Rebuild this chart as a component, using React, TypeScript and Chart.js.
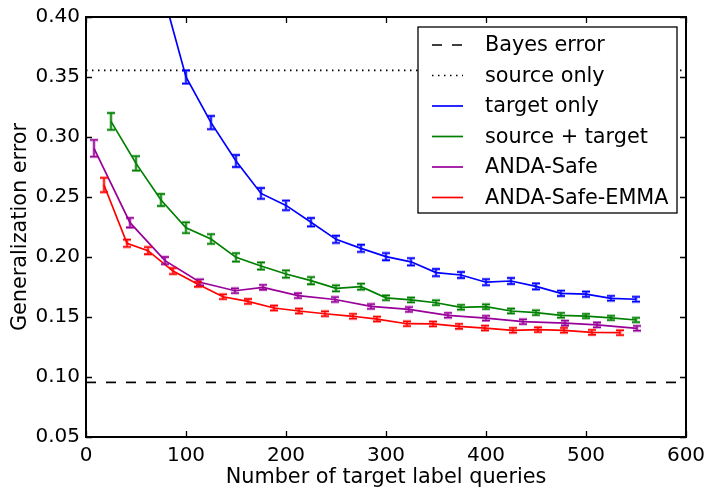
import React, { useEffect, useRef } from "react";
import { Chart, registerables } from "chart.js";
Chart.register(...registerables);

// ---- data ----
const bayesError = 0.0955;
const sourceOnly = 0.3556;
const hLineX = [0, 600];

const targetX = [75, 100, 125, 150, 175, 200, 225, 250, 275, 300, 325, 350, 375, 400, 425, 450, 475, 500, 525, 550];
const targetY = [0.426, 0.350, 0.312, 0.280, 0.253, 0.243, 0.229, 0.2147, 0.2072, 0.2003, 0.196, 0.187, 0.185, 0.179, 0.180, 0.1755, 0.1697, 0.169, 0.1656, 0.1648];
const targetErr = [0.007, 0.0055, 0.0055, 0.005, 0.0045, 0.004, 0.0035, 0.003, 0.003, 0.003, 0.003, 0.003, 0.0025, 0.0025, 0.0025, 0.0025, 0.0022, 0.0022, 0.002, 0.002];

const srcTgtX = [25, 50, 75, 100, 125, 150, 175, 200, 225, 250, 275, 300, 325, 350, 375, 400, 425, 450, 475, 500, 525, 550];
const srcTgtY = [0.313, 0.278, 0.2475, 0.2244, 0.215, 0.1997, 0.1925, 0.1858, 0.1803, 0.1739, 0.1753, 0.166, 0.1642, 0.1619, 0.1581, 0.1586, 0.155, 0.1536, 0.1514, 0.1508, 0.1492, 0.1475];
const srcTgtErr = [0.007, 0.006, 0.005, 0.0045, 0.004, 0.0035, 0.003, 0.003, 0.003, 0.0025, 0.0025, 0.002, 0.002, 0.002, 0.002, 0.002, 0.002, 0.002, 0.002, 0.0018, 0.0018, 0.0018];

const andaX = [8, 44, 79, 114, 149, 177, 212, 249, 285, 323, 362, 400, 437, 479, 511, 551];
const andaY = [0.2906, 0.2286, 0.197, 0.1789, 0.1719, 0.1747, 0.1678, 0.1646, 0.1588, 0.1563, 0.1514, 0.149, 0.1461, 0.1449, 0.1434, 0.1406];
const andaErr = [0.007, 0.004, 0.003, 0.0025, 0.002, 0.002, 0.002, 0.002, 0.002, 0.002, 0.002, 0.002, 0.002, 0.002, 0.002, 0.002];

const emmaX = [18, 41, 62, 87, 112, 137, 162, 188, 213, 239, 267, 291, 321, 347, 373, 399, 427, 452, 478, 506, 534];
const emmaY = [0.26, 0.2114, 0.2053, 0.1883, 0.1772, 0.1669, 0.163, 0.1575, 0.155, 0.1527, 0.1506, 0.1483, 0.1444, 0.1442, 0.1422, 0.1408, 0.1389, 0.1394, 0.1389, 0.1372, 0.1369];
const emmaErr = [0.006, 0.003, 0.003, 0.0025, 0.002, 0.002, 0.002, 0.002, 0.002, 0.002, 0.002, 0.002, 0.002, 0.002, 0.002, 0.002, 0.002, 0.002, 0.002, 0.002, 0.002];

const xTicks = [0, 100, 200, 300, 400, 500, 600];
const yTicks = [0.05, 0.10, 0.15, 0.20, 0.25, 0.30, 0.35, 0.40];

const FONT = "'DejaVu Sans', sans-serif";

const pts = (xs: number[], ys: number[]) => xs.map((x, i) => ({ x, y: ys[i] }));

const errorBarPlugin = {
  id: "errorBars",
  afterDatasetsDraw(chart: any) {
    const { ctx, chartArea, scales } = chart;
    ctx.save();
    ctx.beginPath();
    ctx.rect(chartArea.left, chartArea.top, chartArea.right - chartArea.left, chartArea.bottom - chartArea.top);
    ctx.clip();
    chart.data.datasets.forEach((ds: any) => {
      if (!ds.errs) return;
      ctx.strokeStyle = ds.borderColor;
      ds.data.forEach((p: any, i: number) => {
        const e = ds.errs[i];
        const px = scales.x.getPixelForValue(p.x);
        const y1 = scales.y.getPixelForValue(p.y - e);
        const y2 = scales.y.getPixelForValue(p.y + e);
        const cap = 4;
        ctx.globalAlpha = 0.45;
        ctx.lineWidth = 3;
        ctx.beginPath();
        ctx.moveTo(px, y1); ctx.lineTo(px, y2);
        ctx.moveTo(px - cap, y1); ctx.lineTo(px + cap, y1);
        ctx.moveTo(px - cap, y2); ctx.lineTo(px + cap, y2);
        ctx.stroke();
        ctx.globalAlpha = 1;
        ctx.lineWidth = 1.3;
        ctx.beginPath();
        ctx.moveTo(px, y1); ctx.lineTo(px, y2);
        ctx.moveTo(px - cap, y1); ctx.lineTo(px + cap, y1);
        ctx.moveTo(px - cap, y2); ctx.lineTo(px + cap, y2);
        ctx.stroke();
      });
    });
    ctx.restore();
  },
};

const framePlugin = {
  id: "frame",
  afterDraw(chart: any) {
    const { ctx, chartArea, scales } = chart;
    const { left, right, top, bottom } = chartArea;
    ctx.save();
    ctx.strokeStyle = "#000";
    ctx.lineWidth = 1.3;
    const tl = 6;
    ctx.beginPath();
    xTicks.forEach((v) => {
      const px = Math.round(scales.x.getPixelForValue(v)) + 0.5;
      ctx.moveTo(px, bottom); ctx.lineTo(px, bottom - tl);
      ctx.moveTo(px, top); ctx.lineTo(px, top + tl);
    });
    yTicks.forEach((v) => {
      const py = Math.round(scales.y.getPixelForValue(v)) + 0.5;
      ctx.moveTo(left, py); ctx.lineTo(left + tl, py);
      ctx.moveTo(right, py); ctx.lineTo(right - tl, py);
    });
    ctx.stroke();
    ctx.lineWidth = 2;
    ctx.strokeRect(left, top, right - left, bottom - top);

    // legend
    const lx0 = 418, ly0 = 27, lw = 259, lh = 186;
    ctx.fillStyle = "#fff";
    ctx.fillRect(lx0, ly0, lw, lh);
    ctx.lineWidth = 1.3;
    ctx.strokeStyle = "#000";
    ctx.strokeRect(lx0, ly0, lw, lh);
    ctx.font = `20.8px ${FONT}`;
    ctx.textBaseline = "middle";
    ctx.textAlign = "left";
    chart.data.datasets.forEach((ds: any, i: number) => {
      const y = 45 + i * 30.5;
      ctx.strokeStyle = ds.borderColor;
      ctx.lineWidth = ds.borderWidth;
      ctx.setLineDash(ds.borderDash || []);
      ctx.beginPath();
      ctx.moveTo(432, y); ctx.lineTo(463, y);
      ctx.stroke();
      ctx.setLineDash([]);
      ctx.fillStyle = "#000";
      ctx.fillText(ds.label, 485, y + 1);
    });
    ctx.restore();
  },
};

export default function App() {
  const ref = useRef<HTMLCanvasElement>(null);
  useEffect(() => {
    const canvas = ref.current!;
    const chart = new Chart(canvas, {
      type: "line",
      data: {
        datasets: [
          { label: "Bayes error", data: pts(hLineX, [bayesError, bayesError]), borderColor: "#000", borderWidth: 1.7, borderDash: [10, 10], pointRadius: 0 },
          { label: "source only", data: pts(hLineX, [sourceOnly, sourceOnly]), borderColor: "#000", borderWidth: 1.7, borderDash: [1.5, 4.5], pointRadius: 0 },
          { label: "target only", data: pts(targetX, targetY), errs: targetErr, borderColor: "#0000ff", borderWidth: 1.7, pointRadius: 0 } as any,
          { label: "source + target", data: pts(srcTgtX, srcTgtY), errs: srcTgtErr, borderColor: "#008000", borderWidth: 1.7, pointRadius: 0 } as any,
          { label: "ANDA-Safe", data: pts(andaX, andaY), errs: andaErr, borderColor: "#990099", borderWidth: 1.7, pointRadius: 0 } as any,
          { label: "ANDA-Safe-EMMA", data: pts(emmaX, emmaY), errs: emmaErr, borderColor: "#ff0000", borderWidth: 1.7, pointRadius: 0 } as any,
        ],
      },
      options: {
        animation: false,
        responsive: false,
        devicePixelRatio: 1,
        layout: { padding: { top: 17, right: 24, left: 0, bottom: 0 } },
        plugins: { legend: { display: false }, tooltip: { enabled: false } },
        scales: {
          x: {
            type: "linear",
            min: 0,
            max: 600,
            afterFit: (s: any) => { s.height = 53; s.paddingRight = 0; s.paddingLeft = 0; },
            grid: { display: false, drawTicks: false },
            border: { display: false },
            ticks: { stepSize: 100, padding: 7, color: "#000", font: { family: FONT, size: 20 } },
            title: { display: true, text: "Number of target label queries", color: "#000", font: { family: FONT, size: 20.8 }, padding: { top: 0, bottom: 0 } },
          },
          y: {
            type: "linear",
            min: 0.05,
            max: 0.40,
            afterFit: (s: any) => { s.width = 86; s.paddingTop = 0; s.paddingBottom = 0; },
            grid: { display: false, drawTicks: false },
            border: { display: false },
            ticks: { stepSize: 0.05, padding: 6, color: "#000", font: { family: FONT, size: 20 }, callback: (v: any) => Number(v).toFixed(2) },
            title: { display: true, text: "Generalization error", color: "#000", font: { family: FONT, size: 20.8 }, padding: { top: 8, bottom: 0 } },
          },
        },
      },
      plugins: [errorBarPlugin, framePlugin],
    } as any);
    return () => chart.destroy();
  }, []);
  return (
    <div style={{ position: "absolute", left: 0, top: 0, width: 710, height: 490, background: "#fff" }}>
      <canvas ref={ref} width={710} height={490} style={{ display: "block" }} />
    </div>
  );
}
